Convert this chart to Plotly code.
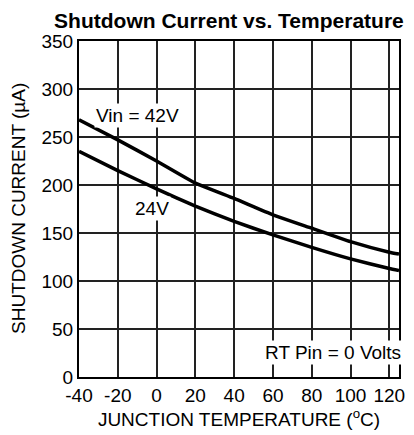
import plotly.graph_objects as go

# Junction temperature (degC) and shutdown current (uA)
temp_c = [-40, -20, 0, 20, 40, 60, 80, 100, 120, 125]
i_vin42 = [268, 247, 225, 202, 186, 169, 155, 141, 130, 128]
i_vin24 = [235, 215, 196, 178, 162, 148, 135, 123, 113, 111]

x_ticks = [-40, -20, 0, 20, 40, 60, 80, 100, 120]
y_ticks = [0, 50, 100, 150, 200, 250, 300, 350]

FONT = "Liberation Sans, Arial, sans-serif"

fig = go.Figure()
for name, ys in [("Vin = 42V", i_vin42), ("24V", i_vin24)]:
    fig.add_trace(
        go.Scatter(
            x=temp_c,
            y=ys,
            mode="lines",
            name=name,
            line=dict(color="black", width=3.5, shape="spline", smoothing=0.4),
            showlegend=False,
        )
    )

fig.add_annotation(x=-10, y=272, text="Vin = 42V", showarrow=False,
                   bgcolor="white", borderpad=1, font=dict(size=19))
fig.add_annotation(x=-2.5, y=176, text="24V", showarrow=False,
                   bgcolor="white", borderpad=1, font=dict(size=19))
fig.add_annotation(x=91, y=26, text="RT Pin = 0 Volts", showarrow=False,
                   bgcolor="white", borderpad=1, font=dict(size=19))

# y-axis title placed by hand so it sits where the reference has it
fig.add_annotation(
    text="SHUTDOWN CURRENT (µA)",
    xref="paper", yref="paper",
    x=(18 - 79) / 320, y=0.5,
    xanchor="center", yanchor="middle",
    textangle=-90, showarrow=False,
    font=dict(size=19),
)

axis_style = dict(
    showgrid=True,
    gridcolor="#222",
    gridwidth=1.5,
    showline=True,
    linecolor="black",
    linewidth=2,
    mirror=True,
    zeroline=False,
    ticks="",
    automargin=False,
    tickfont=dict(size=19, color="black"),
)

fig.update_xaxes(
    range=[-40, 125],
    tickvals=x_ticks,
    ticktext=[str(v) for v in x_ticks],
    title=dict(text="JUNCTION TEMPERATURE (<sup>o</sup>C)", font=dict(size=19), standoff=8),
    **axis_style,
)
fig.update_yaxes(
    range=[0, 350],
    tickvals=y_ticks,
    ticktext=[str(v) for v in y_ticks],
    **axis_style,
)

fig.update_layout(
    width=414,
    height=435,
    margin=dict(l=79, r=15, t=41, b=58),
    paper_bgcolor="white",
    plot_bgcolor="white",
    font=dict(family=FONT, color="black", size=19),
    title=dict(
        text="<b>Shutdown Current vs. Temperature</b>",
        x=0.553,
        xanchor="center",
        y=1 - 21 / 435,
        yanchor="middle",
        font=dict(size=21, color="black"),
    ),
)

# drop the default page margin so the figure sits at the window's corner
fig.write_html(
    "out.html",
    config={"displayModeBar": False},
    post_script="document.body.style.margin='0';",
)
